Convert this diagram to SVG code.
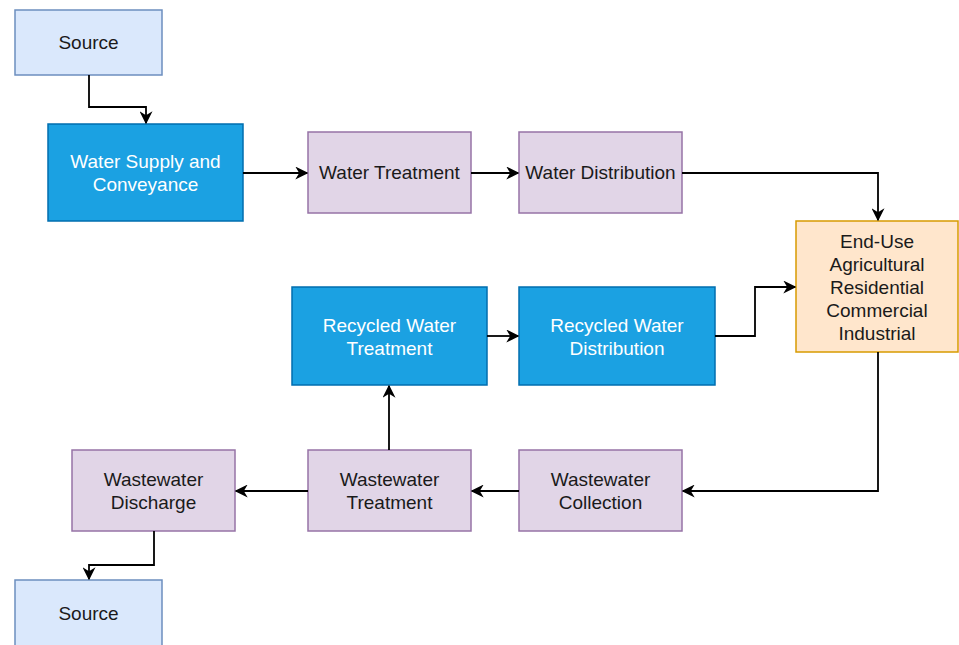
<svg xmlns="http://www.w3.org/2000/svg" width="959" height="645" viewBox="0 0 959 645">
<style>
text{font-family:"Liberation Sans",Arial,sans-serif;font-size:19px;text-anchor:middle;fill:#1a1a1a}
.src rect{fill:#dae8fc;stroke:#6c8ebf;stroke-width:1.5}
.blue rect{fill:#1ba1e2;stroke:#006eaf;stroke-width:1.5}
.blue text{fill:#ffffff}
.pur rect{fill:#e1d5e7;stroke:#9673a6;stroke-width:1.5}
.org rect{fill:#ffe6cc;stroke:#d79b00;stroke-width:1.5}
.edges path{fill:none;stroke:#000;stroke-width:1.8;marker-end:url(#ah)}
</style>
<defs>
<marker id="ah" viewBox="0 0 10 10" refX="9" refY="5" markerWidth="13" markerHeight="13" markerUnits="userSpaceOnUse" orient="auto">
<path d="M0,0 L10,5 L0,10 L3,5 Z" fill="#000"/>
</marker>
</defs>
<rect width="959" height="645" fill="#fff"/>
<g id="source-top" class="src"><rect x="15" y="10" width="147" height="65"/><text x="88.5" y="49">Source</text></g>
<g id="water-supply" class="blue"><rect x="48" y="124" width="195" height="97"/><text x="145.5" y="168">Water Supply and</text><text x="145.5" y="191">Conveyance</text></g>
<g id="water-treatment" class="pur"><rect x="308" y="132" width="163" height="81"/><text x="389.5" y="179">Water Treatment</text></g>
<g id="water-distribution" class="pur"><rect x="519" y="132" width="163" height="81"/><text x="600.5" y="179">Water Distribution</text></g>
<g id="end-use" class="org"><rect x="796" y="221" width="162" height="131"/><text x="877" y="248">End-Use</text><text x="877" y="271">Agricultural</text><text x="877" y="294">Residential</text><text x="877" y="317">Commercial</text><text x="877" y="340">Industrial</text></g>
<g id="recycled-treatment" class="blue"><rect x="292" y="287" width="195" height="98"/><text x="389.5" y="332">Recycled Water</text><text x="389.5" y="355">Treatment</text></g>
<g id="recycled-distribution" class="blue"><rect x="519" y="287" width="196" height="98"/><text x="617" y="332">Recycled Water</text><text x="617" y="355">Distribution</text></g>
<g id="wastewater-collection" class="pur"><rect x="519" y="450" width="163" height="81"/><text x="600.5" y="486">Wastewater</text><text x="600.5" y="509">Collection</text></g>
<g id="wastewater-treatment" class="pur"><rect x="308" y="450" width="163" height="81"/><text x="389.5" y="486">Wastewater</text><text x="389.5" y="509">Treatment</text></g>
<g id="wastewater-discharge" class="pur"><rect x="72" y="450" width="163" height="81"/><text x="153.5" y="486">Wastewater</text><text x="153.5" y="509">Discharge</text></g>
<g id="source-bottom" class="src"><rect x="15" y="580" width="147" height="75"/><text x="88.5" y="620">Source</text></g>
<g id="connectors" class="edges">
<path d="M89,75 V107 H146 V123"/>
<path d="M243,173 H307"/>
<path d="M471,173 H518"/>
<path d="M682,173 H878 V220"/>
<path d="M487,336 H518"/>
<path d="M715,336 H755 V287 H795"/>
<path d="M878,352 V491 H683"/>
<path d="M519,491 H472"/>
<path d="M308,491 H236"/>
<path d="M389,450 V386"/>
<path d="M154,531 V565 H89 V579"/>
</g>
</svg>
